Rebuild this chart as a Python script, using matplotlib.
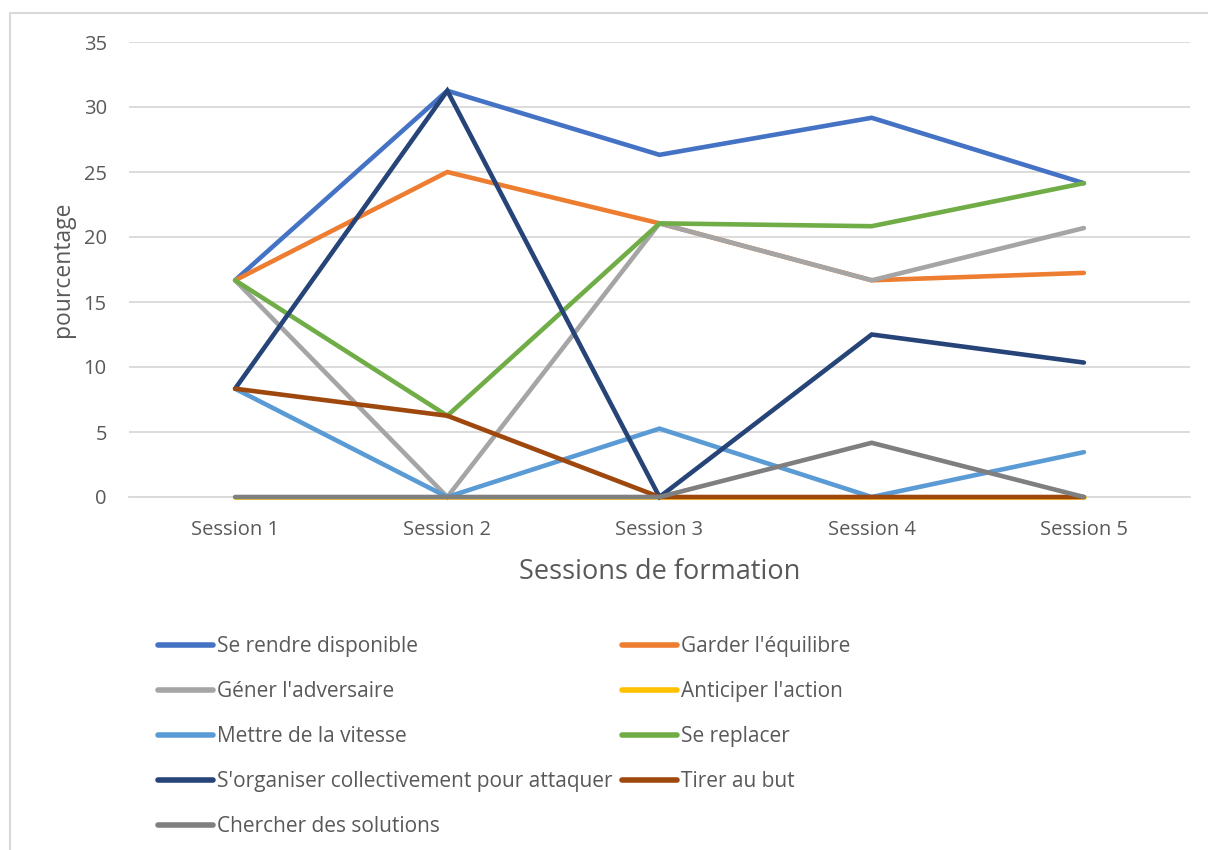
import matplotlib.pyplot as plt
from matplotlib.patches import Rectangle

plt.rcParams['font.family'] = ['Open Sans', 'DejaVu Sans']

# donnees : pourcentage par session
sessions = ['Session 1', 'Session 2', 'Session 3', 'Session 4', 'Session 5']
series_names = [
    'Se rendre disponible',
    "Garder l'équilibre",
    "Géner l'adversaire",
    "Anticiper l'action",
    'Mettre de la vitesse',
    'Se replacer',
    "S'organiser collectivement pour attaquer",
    'Tirer au but',
    'Chercher des solutions',
]
rendre_disponible = [16.67, 31.25, 26.32, 29.17, 24.14]
garder_equilibre = [16.67, 25.0, 21.05, 16.67, 17.24]
gener_adversaire = [16.67, 0.0, 21.05, 16.67, 20.69]
anticiper_action = [0.0, 0.0, 0.0, 0.0, 0.0]
mettre_vitesse = [8.33, 0.0, 5.26, 0.0, 3.45]
se_replacer = [16.67, 6.25, 21.05, 20.83, 24.14]
organiser_attaque = [8.33, 31.25, 0.0, 12.5, 10.34]
tirer_but = [8.33, 6.25, 0.0, 0.0, 0.0]
chercher_solutions = [0.0, 0.0, 0.0, 4.17, 0.0]

values = [rendre_disponible, garder_equilibre, gener_adversaire, anticiper_action,
          mettre_vitesse, se_replacer, organiser_attaque, tirer_but, chercher_solutions]
colors = ['#4472C4', '#ED7D31', '#A5A5A5', '#FFC000', '#5B9BD5',
          '#70AD47', '#264478', '#9E480E', '#7F7F7F']

txt = '#595959'
grid = '#D9D9D9'

fig = plt.figure(figsize=(12.08, 8.5), dpi=100)
W, H = 1208, 850

# cadre du graphique
fig.patches.append(Rectangle((10 / W, -0.1), 1.2, 1 - 13 / H + 0.1, transform=fig.transFigure,
                             fill=False, edgecolor=grid, linewidth=1.5))

ax = fig.add_axes([129 / W, 1 - 497 / H, (1190 - 129) / W, (497 - 42) / H])
x = list(range(len(sessions)))
handles = []
for name, vals, c in zip(series_names, values, colors):
    ln, = ax.plot(x, vals, color=c, linewidth=3.3, solid_capstyle='round',
                  solid_joinstyle='miter', label=name, zorder=3, clip_on=False)
    handles.append(ln)

ax.set_xlim(-0.5, 4.5)
ax.set_ylim(0, 35)
ax.set_yticks(range(0, 36, 5))
ax.set_xticks(x)
ax.set_xticklabels(sessions)
ax.grid(axis='y', color=grid, linewidth=1.3)
ax.set_axisbelow(True)
for s in ['top', 'right', 'left']:
    ax.spines[s].set_visible(False)
ax.spines['bottom'].set_color(grid)
ax.spines['bottom'].set_linewidth(1.3)
ax.tick_params(length=0, labelsize=14.5, colors=txt)
ax.tick_params(axis='x', pad=16.5)
ax.tick_params(axis='y', pad=16)
ax.set_xlabel('Sessions de formation', fontsize=19.5, color=txt, labelpad=13)
ax.set_ylabel('pourcentage', fontsize=16.5, color=txt, labelpad=6.5)

# legende sur deux colonnes, rangee par rangee
leg_kw = dict(frameon=False, fontsize=15, labelcolor=txt, handlelength=2.64,
              handletextpad=0.2, labelspacing=1.15, borderpad=0, borderaxespad=0,
              loc='upper left')
leg1 = fig.legend(handles=handles[0::2], bbox_to_anchor=(158 / W, 1 - 636 / H), **leg_kw)
leg2 = fig.legend(handles=handles[1::2], bbox_to_anchor=(622 / W, 1 - 636 / H), **leg_kw)
for lg in (leg1, leg2):
    for h in lg.legend_handles:
        h.set_linewidth(4)

fig.savefig('out.png', dpi=100)
